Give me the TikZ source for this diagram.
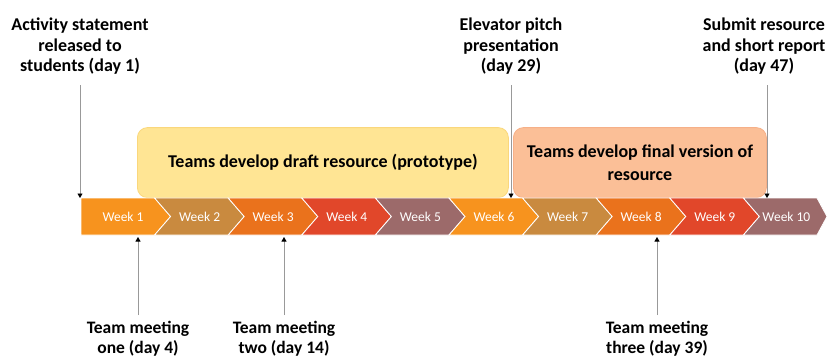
\documentclass[tikz,border=0pt]{standalone}
\usepackage{fontspec}
\setmainfont{Carlito}
\usetikzlibrary{arrows.meta}
\definecolor{wkA}{HTML}{F7931E}
\definecolor{wkB}{HTML}{C98A3F}
\definecolor{wkC}{HTML}{EA721C}
\definecolor{wkD}{HTML}{E1472A}
\definecolor{wkE}{HTML}{9C6A6A}
\definecolor{draftfill}{HTML}{FFE594}
\definecolor{draftedge}{HTML}{FAD77C}
\definecolor{finalfill}{HTML}{FBBF97}
\definecolor{finaledge}{HTML}{F6B088}
\begin{document}
\begin{tikzpicture}[x=1pt,y=-1pt,
  lbl/.style={font=\bfseries\fontsize{18}{20.5}\selectfont, align=center, inner sep=0pt},
  lowlbl/.style={font=\bfseries\fontsize{17.5}{19.5}\selectfont, align=center, inner sep=0pt},
  wk/.style={font=\fontsize{13.5}{15}\selectfont, text=white, inner sep=0pt},
  phase/.style={rounded corners=10pt, line width=0.8pt, inner sep=0pt,
    font=\bfseries\fontsize{18}{23}\selectfont, align=center},
  pin/.style={draw=black!40, line width=0.9pt,
    -{Triangle[length=4.5pt,width=5pt,black]}},
]
\useasboundingbox (0,0) rectangle (827,357);

% phases
\node[phase, fill=draftfill, draw=draftedge, minimum width=371, minimum height=70,
  anchor=south west] (draft) at (137,198) {\raisebox{-3pt}{Teams develop draft resource (prototype)}};
\node[phase, fill=finalfill, draw=finaledge, minimum width=253, minimum height=70,
  anchor=south west] (final) at (513,198) {Teams develop final version of\\resource};

% week chevrons
\foreach \i/\c in {1/wkA,2/wkB,3/wkC,4/wkD,5/wkE,6/wkA,7/wkB,8/wkC,9/wkD,10/wkE}{
  \pgfmathsetmacro\L{81+73.6*(\i-1)}
  \pgfmathsetmacro\R{\L+73.6}
  \ifnum\i=1
    \filldraw[fill=\c, draw=white, line width=0.8pt]
      (\L,198) -- (\R,198) -- (\R+16,216.5) -- (\R,235) -- (\L,235) -- cycle;
    \node[wk] (w\i) at (\L+42,216.5) {Week \i};
  \else\ifnum\i=10
    \filldraw[fill=\c, draw=white, line width=0.8pt]
      (\L,198) -- (\R,198) -- (\R+10,216.5) -- (\R,235) -- (\L,235) -- (\L+16,216.5) -- cycle;
    \node[wk] (w\i) at (\L+43,216.5) {Week \i};
  \else
    \filldraw[fill=\c, draw=white, line width=0.8pt]
      (\L,198) -- (\R,198) -- (\R+16,216.5) -- (\R,235) -- (\L,235) -- (\L+16,216.5) -- cycle;
    \node[wk] (w\i) at (\L+45,216.5) {Week \i};
  \fi\fi
}
\coordinate (bartop) at (0,198);
\coordinate (barbot) at (0,237);

% milestones above the bar
\node[lbl, anchor=north] (act) at (80,18) {Activity statement\\released to\\students (day 1)};
\node[lbl, anchor=north] (pitch) at (511,18) {Elevator pitch\\presentation\\(day 29)};
\node[lbl, anchor=north] (submit) at (764,18) {Submit resource\\and short report\\(day 47)};
\coordinate (actc) at (80,85);
\coordinate (pitchc) at (511,85);
\coordinate (submitc) at (767,85);
\draw[pin] (actc) -- (actc |- bartop);
\draw[pin] (pitchc) -- (pitchc |- bartop);
\draw[pin] (submitc) -- (submitc |- bartop);

% team meetings below the bar
\node[lowlbl, anchor=south] (tm1) at (138,356) {Team meeting\\one (day 4)};
\node[lowlbl, anchor=south] (tm2) at (284,356) {Team meeting\\two (day 14)};
\node[lowlbl, anchor=south] (tm3) at (657,356) {Team meeting\\three (day 39)};
\coordinate (tm1c) at (138,315);
\coordinate (tm2c) at (284,315);
\coordinate (tm3c) at (657,315);
\draw[pin] (tm1c) -- (tm1c |- barbot);
\draw[pin] (tm2c) -- (tm2c |- barbot);
\draw[pin] (tm3c) -- (tm3c |- barbot);
\end{tikzpicture}
\end{document}
